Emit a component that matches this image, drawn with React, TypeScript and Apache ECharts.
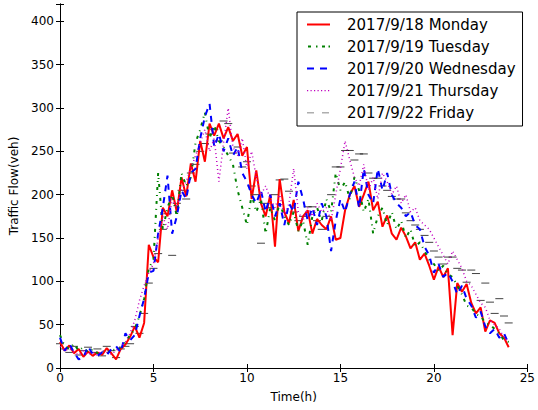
import React, { useEffect, useRef } from "react";
import * as echarts from "echarts";

// Time axis (hours), one reading every 15 minutes
const HOURS: number[] = Array.from({ length: 97 }, (_, i) => i * 0.25);

const SERIES_NAMES = [
  "2017/9/18 Monday",
  "2017/9/19 Tuesday",
  "2017/9/20 Wednesday",
  "2017/9/21 Thursday",
  "2017/9/22 Friday",
];

const monday = [
  30, 20, 26, 17, 22, 13, 19, 14,
  18, 15, 23, 17, 10, 22, 27, 36,
  48, 35, 52, 142, 128, 122, 185, 175,
  205, 180, 220, 198, 236, 215, 262, 238,
  282, 268, 282, 265, 278, 262, 270, 245,
  255, 195, 228, 190, 175, 200, 140, 218,
  180, 167, 194, 158, 175, 182, 155, 172,
  165, 160, 175, 148, 150, 182, 200, 210,
  186, 200, 215, 182, 192, 163, 176, 155,
  148, 162, 152, 138, 145, 125, 132, 118,
  102, 117, 105, 115, 38, 98, 88, 97,
  75, 63, 70, 42, 55, 52, 40, 35,
  24,
];

const tuesday = [
  38, 25, 22, 28, 20, 24, 18, 22,
  17, 20, 16, 22, 20, 24, 30, 38,
  45, 60, 80, 115, 125, 225, 160, 185,
  200, 175, 225, 210, 220, 260, 275, 295,
  265, 280, 262, 255, 245, 235, 205, 185,
  165, 200, 180, 195, 155, 185, 170, 190,
  175, 165, 180, 158, 170, 142, 175, 185,
  170, 195, 180, 225, 205, 215, 195, 220,
  205, 180, 195, 155, 175, 185, 165, 180,
  160, 170, 150, 160, 140, 145, 135, 125,
  120, 112, 118, 108, 105, 95, 85, 72,
  70, 62, 60, 52, 50, 45, 40, 32,
  30,
];

const wednesday = [
  35, 20, 28, 18, 10, 12, 25, 16,
  14, 18, 15, 22, 25, 18, 40, 32,
  38, 60, 80, 110, 112, 155, 185, 222,
  155, 175, 205, 195, 225, 230, 265, 290,
  305, 255, 270, 250, 265, 245, 255, 225,
  215, 200, 190, 205, 180, 200, 175, 190,
  165, 190, 180, 215, 195, 170, 185, 165,
  190, 175, 135, 170, 195, 180, 200, 215,
  185, 230, 200, 190, 230, 205, 225, 200,
  190, 185, 175, 180, 165, 160, 140, 130,
  110, 120, 105, 110, 100, 85, 95, 80,
  72, 58, 65, 48, 40, 45, 35, 40,
  28,
];

const thursday = [
  25, 20, 22, 18, 15, 20, 16, 18,
  15, 20, 18, 16, 20, 25, 30, 40,
  55, 78, 95, 110, 120, 150, 175, 160,
  195, 185, 205, 215, 230, 245, 260, 275,
  250, 265, 215, 260, 300, 255, 245, 265,
  230, 250, 220, 200, 210, 195, 185, 200,
  175, 190, 230, 180, 170, 185, 175, 190,
  180, 185, 170, 200, 230, 262, 240, 220,
  210, 235, 205, 220, 195, 225, 215, 200,
  210, 190, 200, 180, 185, 170, 165, 160,
  150, 140, 130, 120, 135, 125, 115, 100,
  95, 85, 75, 70, 55, 50, 45, 35,
  30,
];

const friday = [
  28, 22, 18, 25, 15, 20, 24, 18,
  22, 14, 25, 20, 12, 22, 25, 28,
  48, 40, 63, 98, 115, 132, 160, 178,
  130, 190, 205, 195, 225, 235, 250, 259,
  270, 275, 262, 285, 282, 248, 255, 232,
  238, 210, 200, 144, 190, 185, 200, 217,
  218, 204, 180, 170, 175, 186, 186, 170,
  160, 175, 200, 232, 232, 251, 251, 240,
  247, 247, 225, 219, 219, 210, 205, 198,
  195, 195, 179, 170, 165, 160, 153, 145,
  135, 128, 120, 128, 128, 115, 113, 99,
  113, 109, 78, 98, 76, 63, 80, 60,
  52,
];

const X_TICKS = { min: 0, max: 25, interval: 5 };
const Y_TICKS = { min: 0, max: 420, interval: 50 };

const FONT = "'DejaVu Sans', 'Liberation Sans', sans-serif";

const pairs = (vals: number[]) => HOURS.map((h, i) => [h, vals[i]]);

// legend swatches (23 x 14 box), drawn as filled paths mimicking each line style
const BOX = "M0,0L0,0M23,14L23,14";
const ICON_SOLID = "path://" + BOX + "M0,6h23v2h-23z";
const ICON_DASHDOT = "path://" + BOX + "M1,6h3v2h-3zM9,6h1.5v2h-1.5zM15,6h3v2h-3zM21.5,6h1.5v2h-1.5z";
const ICON_DASHED = "path://" + BOX + "M0,6h7v2h-7zM13,6h7v2h-7z";
const ICON_DOTTED = "path://" + BOX + "M0,6.5h1.2v1.2h-1.2zM3.5,6.5h1.2v1.2h-1.2zM7,6.5h1.2v1.2h-1.2zM10.5,6.5h1.2v1.2h-1.2zM14,6.5h1.2v1.2h-1.2zM17.5,6.5h1.2v1.2h-1.2zM21,6.5h1.2v1.2h-1.2z";
const ICON_HLINES = "path://" + BOX + "M0,6.5h7v1.5h-7zM15,6.5h7v1.5h-7z";

export default function App() {
  const ref = useRef<HTMLDivElement>(null);

  useEffect(() => {
    if (!ref.current) return;
    const chart = echarts.init(ref.current, undefined, { renderer: "svg" });

    const axisLine = { show: true, lineStyle: { color: "#000", width: 1 } };
    const tick = { show: true, inside: true, length: 4, lineStyle: { color: "#000", width: 1 } };
    const label = { color: "#000", fontFamily: FONT, fontSize: 12 };

    const option: any = {
      animation: false,
      backgroundColor: "#fff",
      grid: { left: 60, top: 4, width: 470, height: 364, containLabel: false },
      legend: {
        orient: "vertical",
        left: 297,
        top: 12,
        padding: [5, 7, 6, 10],
        itemGap: 7,
        itemWidth: 23,
        itemHeight: 14,
        borderColor: "#000",
        borderWidth: 1,
        borderRadius: 0,
        backgroundColor: "#fff",
        selectedMode: false,
        textStyle: { color: "#000", fontFamily: FONT, fontSize: 15, padding: [0, 0, 0, 12] },
        data: [
          { name: SERIES_NAMES[0], icon: ICON_SOLID, itemStyle: { color: "#ff0000" } },
          { name: SERIES_NAMES[1], icon: ICON_DASHDOT, itemStyle: { color: "#008000" } },
          { name: SERIES_NAMES[2], icon: ICON_DASHED, itemStyle: { color: "#0000ff" } },
          { name: SERIES_NAMES[3], icon: ICON_DOTTED, itemStyle: { color: "#bf00bf" } },
          { name: SERIES_NAMES[4], icon: ICON_HLINES, itemStyle: { color: "#9a9a9a" } },
        ],
      },
      xAxis: [
        {
          type: "value",
          ...X_TICKS,
          position: "bottom",
          name: "Time(h)",
          nameLocation: "middle",
          nameGap: 23,
          nameTextStyle: { color: "#000", fontFamily: FONT, fontSize: 12 },
          axisLine,
          axisTick: tick,
          axisLabel: { ...label, margin: 4 },
          splitLine: { show: false },
        },
        {
          type: "value",
          ...X_TICKS,
          position: "top",
          axisLine,
          axisTick: tick,
          axisLabel: { show: false },
          splitLine: { show: false },
        },
      ],
      yAxis: [
        {
          type: "value",
          ...Y_TICKS,
          position: "left",
          name: "Traffic Flow(veh)",
          nameLocation: "middle",
          nameGap: 36,
          nameTextStyle: { color: "#000", fontFamily: FONT, fontSize: 12 },
          axisLine,
          axisTick: tick,
          axisLabel: {
            ...label,
            margin: 6,
            formatter: (v: number) => (v === Y_TICKS.max ? "" : String(v)),
          },
          splitLine: { show: false },
        },
        {
          type: "value",
          ...Y_TICKS,
          position: "right",
          axisLine,
          axisTick: tick,
          axisLabel: { show: false },
          splitLine: { show: false },
        },
      ],
      series: [
        {
          name: SERIES_NAMES[0],
          type: "line",
          data: pairs(monday),
          symbol: "none",
          lineStyle: { color: "#ff0000", width: 2, type: "solid" },
          itemStyle: { color: "#ff0000" },
        },
        {
          name: SERIES_NAMES[1],
          type: "line",
          data: pairs(tuesday),
          symbol: "none",
          lineStyle: { color: "#008000", width: 2, type: [3, 5, 1, 5] },
          itemStyle: { color: "#008000" },
        },
        {
          name: SERIES_NAMES[2],
          type: "line",
          data: pairs(wednesday),
          symbol: "none",
          lineStyle: { color: "#0000ff", width: 2, type: [6, 6] },
          itemStyle: { color: "#0000ff" },
        },
        {
          name: SERIES_NAMES[3],
          type: "line",
          data: pairs(thursday),
          symbol: "none",
          lineStyle: { color: "#bf00bf", width: 1.5, type: [1, 3] },
          itemStyle: { color: "#bf00bf" },
        },
        {
          name: SERIES_NAMES[4],
          type: "scatter",
          data: pairs(friday),
          symbol: "rect",
          symbolSize: [8, 1],
          itemStyle: { color: "#111" },
        },
      ],
    };

    chart.setOption(option);
    return () => chart.dispose();
  }, []);

  return (
    <div
      ref={ref}
      style={{ position: "fixed", left: 0, top: 0, width: 538, height: 410, background: "#fff" }}
    />
  );
}
